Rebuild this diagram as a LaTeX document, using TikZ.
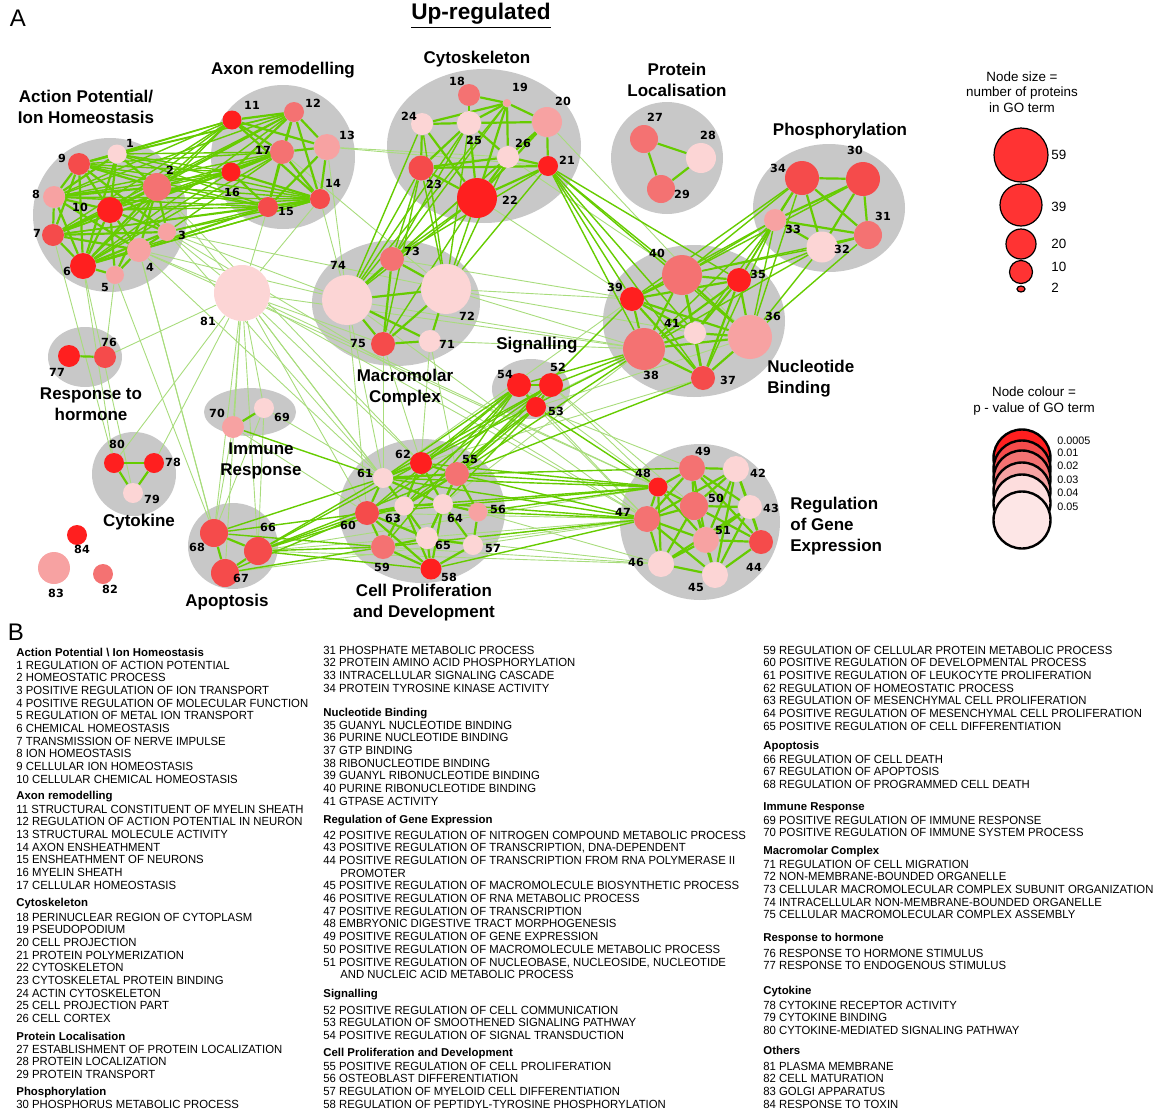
\documentclass[tikz,border=0pt]{standalone}
\usepackage{fontspec}
\setmainfont{Liberation Sans}
\newfontfamily\listfont[FakeStretch=0.96]{Liberation Sans}
\newfontfamily\numfont{DejaVu Sans}
\usetikzlibrary{positioning,shapes.geometric}
\pgfdeclarelayer{bg}
\pgfdeclarelayer{links}
\pgfsetlayers{bg,links,main}
\definecolor{pA}{HTML}{FF1F1F}
\definecolor{pB}{HTML}{F54B4B}
\definecolor{pC}{HTML}{F47272}
\definecolor{pD}{HTML}{F7A2A2}
\definecolor{pE}{HTML}{FCD5D5}
\definecolor{grn}{HTML}{66CC00}
\definecolor{lgrn}{HTML}{A8DC7C}
\definecolor{clgray}{HTML}{C8C8C8}
\def\grpfont{\bfseries\fontsize{8.5}{10.5}\selectfont}
\tikzset{
	term/.style={circle, inner sep=0pt, draw=none},
	tnum/.style={font={\numfont\bfseries\fontsize{5.6}{6}\selectfont}, inner sep=0pt},
	grp/.style={font=\grpfont, align=center, inner sep=0pt},
	lk/.style={draw=grn, line width=1.1pt},
	lkm/.style={draw=grn, line width=0.7pt},
	lkt/.style={draw=lgrn, line width=0.45pt},
	item/.style={font={\listfont\fontsize{5.9}{6}\selectfont}, anchor=base west, inner sep=0pt},
	head/.style={font={\bfseries\fontsize{5.7}{6}\selectfont}, anchor=base west, inner sep=0pt},
	lgd/.style={font={\fontsize{6.7}{7.75}\selectfont}, align=center, inner sep=0pt},
	szc/.style={circle, draw=black, fill=red!80!white, line width=0.6pt, inner sep=0pt},
	pvc/.style={circle, draw=black, line width=1.2pt, inner sep=0pt, minimum size=28.5pt},
}
\begin{document}
\begin{tikzpicture}[x=0.5pt, y=-0.5pt]
			%%%%% START %%%%%
			\useasboundingbox (0,0) rectangle (1157,1114);
			
			% groups
			\begin{pgfonlayer}{bg}
			\fill[clgray] (110,215) ellipse [x radius=77, y radius=77];
			\fill[clgray] (283,157) ellipse [x radius=72, y radius=72];
			\fill[clgray] (484,146) ellipse [x radius=97, y radius=77];
			\fill[clgray] (667,158) ellipse [x radius=56, y radius=56];
			\fill[clgray] (829,208) ellipse [x radius=76, y radius=64];
			\fill[clgray] (396,303) ellipse [x radius=84, y radius=63];
			\fill[clgray] (694,321) ellipse [x radius=91, y radius=76];
			\fill[clgray] (531,389) ellipse [x radius=39, y radius=30];
			\fill[clgray] (700,522) ellipse [x radius=80, y radius=78];
			\fill[clgray] (422,511) ellipse [x radius=83, y radius=72];
			\fill[clgray] (233,546) ellipse [x radius=45, y radius=43];
			\fill[clgray] (250,412) ellipse [x radius=46, y radius=24];
			\fill[clgray] (134,474) ellipse [x radius=42, y radius=42];
			\fill[clgray] (85,357) ellipse [x radius=37, y radius=30];
			\end{pgfonlayer}
			
			% GO terms
			\foreach \n/\x/\y/\r/\c in {1/117/154/9.5/pE, 2/157/187/14/pC, 3/167/232/9/pD, 4/139/250/12/pD, 5/115/275/9/pD, 6/83/266/13/pA, 7/53/235/11/pB, 8/54/197/11/pD, 9/79/164/11/pB, 10/110/210/13/pA,
				11/232/120/9.5/pA, 12/294/112/10/pC, 13/327/147/13/pD, 14/320/199/10/pB, 15/268/207/10/pB, 16/231/172/9.5/pA, 17/282/152/12/pC,
				18/469/95/11/pC, 19/507/103/4/pD, 20/547/122/15/pD, 21/548/166/10/pA, 22/477/198/20/pA, 23/421/168/12.5/pB, 24/422/124/11/pE, 25/469/123/12/pE, 26/508/157/11/pE,
				27/644/139/14/pC, 28/701/158/15/pE, 29/661/189/14/pC,
				30/863/179/17/pB, 31/868/235/14/pC, 32/822/247/15.5/pE, 33/775/220/11/pD, 34/802/178/17/pB,
				35/739/280/12/pA, 36/750/337/22/pD, 37/703/378/12/pB, 38/644/349/21/pC, 39/632/299/12/pA, 40/682/275/20/pC, 41/695/333/11/pE,
				42/736/469/13/pE, 43/750/507/12/pE, 44/761/542/12/pB, 45/715/575/13/pE, 46/661/564/13/pE, 47/647/519/13/pC, 48/658/487/9.5/pA, 49/692/468/13/pC, 50/694/506/14/pC, 51/706/540/13/pD,
				52/551/385/12/pA, 53/536/407/10/pA, 54/519/385/12/pA,
				55/457/474/12/pC, 56/478/512/9.5/pD, 57/473/545/10/pE, 58/431/569/10.5/pA, 59/383/547/12/pC, 60/367/513/12/pB, 61/383/478/10/pE, 62/421/463/11/pA, 63/404/506/9.5/pE, 64/443/504/10/pE, 65/427/538/11/pE,
				66/258/551/14/pB, 67/225/573/14/pB, 68/214/533/14/pB,
				69/264/408/10/pE, 70/233/427/11/pD,
				71/430/341/11/pE, 72/446/289/25/pE, 73/392/259/12/pC, 74/347/300/25/pE, 75/383/344/12/pB,
				76/105/357/11/pB, 77/69/356/11/pA,
				78/154/463/10/pA, 79/133/493/10/pE, 80/114/463/10/pA,
				81/242/293/28/pE, 82/103/574/10/pC, 83/54/568/16/pD, 84/77/535/10/pA}
				\node[term, fill=\c, minimum size=\r pt] (n\n) at (\x,\y) {};
			
			\foreach \n/\x/\y in {1/130/143, 2/170/170, 3/182/235, 4/150/267, 5/105/287, 6/67/271, 7/37/233, 8/36/194, 9/62/158, 10/80/207,
				11/252/105, 12/313/103, 13/347/135, 14/333/183, 15/286/211, 16/232/192, 17/263/150,
				18/457/81, 19/520/87, 20/563/101, 21/567/160, 22/510/200, 23/434/184, 24/409/116, 25/474/140, 26/523/143,
				27/655/117, 28/708/135, 29/682/194,
				30/855/150, 31/883/216, 32/842/249, 33/793/229, 34/778/168,
				35/758/274, 36/773/316, 37/728/380, 38/651/375, 39/615/287, 40/657/253, 41/672/323,
				42/758/473, 43/771/508, 44/754/567, 45/696/587, 46/636/562, 47/623/512, 48/643/473, 49/703/451, 50/716/498, 51/723/530,
				52/558/367, 53/556/411, 54/505/374,
				55/470/459, 56/498/509, 57/493/548, 58/449/577, 59/382/567, 60/348/525, 61/365/473, 62/403/454, 63/393/518, 64/455/518, 65/443/545,
				66/268/527, 67/241/578, 68/197/547,
				69/282/417, 70/217/413,
				71/447/344, 72/467/316, 73/412/251, 74/338/265, 75/358/343,
				76/109/342, 77/57/372,
				78/173/462, 79/152/499, 80/117/444,
				81/208/321, 82/110/589, 83/56/593, 84/82/549}
				\node[tnum] (l\n) at (\x,\y) {\n};
			
			% group names
			\node[font={\fontsize{12}{12}\selectfont}] (pa) at (18,18) {A};
			\node[font={\bfseries\fontsize{11.3}{12}\selectfont}] (ttl) at (481,16) {\underline{Up-regulated}};
			\node[grp] (gAP) at (86,107) {Action Potential/\\Ion Homeostasis};
			\node[grp] (gAX) at (283,70) {Axon remodelling};
			\node[grp] (gCY) at (477,59) {Cytoskeleton};
			\node[grp] (gPL) at (677,80) {Protein\\Localisation};
			\node[grp] (gPH) at (840,131) {Phosphorylation};
			\node[grp] (gMC) at (405,388) {Macromolar\\Complex};
			\node[grp] (gSG) at (537,345) {Signalling};
			\node[grp, align=left, anchor=west] (gNB) at (767,379) {Nucleotide\\Binding};
			\node[grp, align=left, anchor=west] (gGE) at (790,526) {Regulation\\of Gene\\Expression};
			\node[grp] (gCP) at (424,603) {Cell Proliferation\\and Development};
			\node[grp] (gRH) at (91,404) {Response to\\hormone};
			\node[grp] (gIR) at (261,461) {Immune\\Response};
			\node[grp] (gCK) at (139,522) {Cytokine};
			\node[grp] (gAP2) at (227,602) {Apoptosis};
			
			% legends
			\node[lgd] (lsz) at (1022,92) {Node size =\\number of proteins\\in GO term};
			\foreach \v/\y/\r in {59/155/27, 39/205/21, 20/244/15, 10/272/11.5}
				\node[szc, minimum size=\r pt] (s\v) at (1021,\y) {};
			\node[szc, ellipse, minimum width=4pt, minimum height=3pt] (s2) at (1021,289) {};
			\foreach \v/\y in {59/155, 39/207, 20/244, 10/267, 2/288}
				\node[lgd, anchor=west] (t\v) at (1051,\y) {\v};
			
			\node[lgd] (lpv) at (1034,401) {Node colour =\\p - value of GO term};
			\foreach \c/\y [count=\k] in {pA/458, pB/469, pC/479, pD/491, pE!80!white/503, pE!60!white/520}
				\node[pvc, fill=\c] (p\k) at (1022,\y) {};
			\foreach \v/\y [count=\k] in {0.0005/441, 0.01/453, 0.02/466, 0.03/480, 0.04/493, 0.05/507}
				\node[font={\fontsize{5.4}{6}\selectfont}, anchor=west, inner sep=0pt] (q\k) at (1057,\y) {\v};
			
			% links
			\begin{pgfonlayer}{links}
			\foreach \a/\b in {13/26, 13/21, 13/74, 14/74, 14/81, 15/81, 17/72, 3/74, 4/74, 3/72, 2/81, 3/81, 4/81,
				5/76, 6/80, 7/80, 5/68, 4/68, 4/67, 6/79, 4/61, 3/61, 4/48, 3/47, 2/62,
				81/76, 81/78, 81/80, 81/70, 81/69, 81/67, 81/66, 81/68, 81/61, 81/60, 81/62, 81/48, 81/47, 81/38, 81/75, 81/63,
				69/66, 69/68, 70/68, 69/61, 70/60, 20/36, 22/39, 26/40,
				72/39, 72/38, 74/38, 73/39, 71/38, 72/41, 74/61, 75/61, 75/62, 71/62, 71/55, 74/60, 74/47,
				38/61, 39/61, 38/64, 37/62, 36/53, 53/47, 52/48, 53/49, 54/47, 52/50, 54/48,
				47/66, 47/67, 48/66, 46/66, 47/60, 47/59, 46/59, 56/46, 65/46, 57/47}
				\draw[lkt] (n\a) -- (n\b);
			
			\foreach \a in {1,2,6,7,8,9,10}
				\foreach \b in {11,12,14,15,16,17}
					\draw[lkm] (n\a) -- (n\b);
			\foreach \a/\b in {3/14, 3/15, 3/17, 4/15, 4/14,
				21/39, 21/40, 21/38, 21/41, 21/36, 21/37, 21/35,
				22/73, 22/72, 22/74, 22/75, 23/73, 23/74, 23/72, 23/75, 24/74, 24/72, 25/73, 25/74, 25/72, 19/73, 19/74, 26/72, 26/74, 21/72, 21/73, 20/74,
				34/39, 34/40, 33/40, 33/39, 33/38, 33/36, 33/41, 33/37, 32/40, 32/38, 32/36, 31/36, 31/40, 30/40, 34/36, 34/35, 33/35, 32/35,
				38/52, 38/54, 38/55, 38/62, 39/55, 37/55,
				54/62, 54/61, 54/55, 54/63, 54/60, 52/62, 52/55, 52/61, 53/55, 53/64, 53/63, 54/59, 52/60, 53/48,
				61/48, 61/47, 55/48, 55/47, 55/49, 56/47, 56/48, 62/48, 63/48, 64/47, 58/47, 60/48, 59/47,
				61/66, 61/68, 60/66, 60/68, 59/66, 59/67, 62/66, 55/66, 63/66, 60/67, 58/66, 59/68, 70/61}
				\draw[lkm] (n\a) -- (n\b);
			
			\foreach \a/\b in {1/9, 1/2, 1/8, 1/10, 1/6, 9/2, 9/8, 9/10, 9/7, 9/6, 9/3, 8/2, 8/10, 8/7, 8/6, 8/4, 2/10, 2/7, 2/6, 2/3, 2/4,
				10/7, 10/6, 10/4, 10/3, 7/6, 7/4, 7/3, 6/4, 6/5, 6/3, 4/3, 4/5, 10/5, 2/5,
				11/12, 11/17, 11/13, 12/17, 12/13, 12/14, 12/15, 13/17, 13/14, 13/15, 17/14, 17/15, 16/17, 16/15, 16/14, 14/15, 12/16, 11/14,
				18/19, 19/20, 19/25, 19/24, 19/22, 19/26, 20/25, 20/21, 20/26, 20/22, 24/25, 24/23, 24/22, 25/22, 25/23, 26/22, 26/23, 21/22, 21/23, 21/26, 25/26, 23/22, 18/25,
				73/74, 73/72, 73/75, 74/75, 74/72, 72/71, 75/71, 72/75, 74/71,
				27/28, 27/29, 28/29,
				34/30, 30/31, 34/31, 34/33, 30/33, 33/31, 33/32, 32/31, 30/32, 34/32,
				40/35, 40/39, 40/41, 40/36, 40/38, 40/37, 35/39, 35/41, 35/36, 35/38, 35/37, 39/41, 39/38, 39/36, 39/37, 41/36, 41/38, 41/37, 36/38, 36/37, 38/37,
				54/52, 52/53, 54/53,
				61/62, 61/63, 61/60, 61/64, 61/55, 62/55, 62/63, 62/64, 55/64, 55/63, 55/56, 55/65, 63/64, 63/65, 63/60, 63/59, 64/65, 64/56, 64/57,
				60/65, 60/59, 65/58, 65/57, 59/58, 57/58, 56/57, 60/58, 65/59, 63/58, 64/58,
				49/42, 49/48, 49/50, 49/47, 49/43, 49/51, 49/44, 42/50, 42/43, 42/51, 42/44, 42/47, 48/50, 48/47, 48/51, 50/43, 50/47, 50/51, 50/44, 50/46, 50/45,
				43/51, 43/44, 43/45, 47/51, 47/46, 47/45, 51/46, 51/45, 51/44, 44/45, 46/45, 48/46, 43/46, 42/45,
				68/66, 68/67, 66/67, 69/70, 80/78, 80/79, 78/79, 77/76}
				\draw[lk] (n\a) -- (n\b);
			\end{pgfonlayer}
			
			% term list
			\node[font={\fontsize{12}{12}\selectfont}] (pb) at (16,632) {B};
			
			\node[head] (h1) at (16,656) {Action Potential \textbackslash{} Ion Homeostasis};
			\foreach \t [count=\k from 0] in {1 REGULATION OF ACTION POTENTIAL, 2 HOMEOSTATIC PROCESS, 3 POSITIVE REGULATION OF ION TRANSPORT, 4 POSITIVE REGULATION OF MOLECULAR FUNCTION, 5 REGULATION OF METAL ION TRANSPORT, 6 CHEMICAL HOMEOSTASIS, 7 TRANSMISSION OF NERVE IMPULSE, 8 ION HOMEOSTASIS, 9 CELLULAR ION HOMEOSTASIS, 10 CELLULAR CHEMICAL HOMEOSTASIS}
				\node[item] (a\k) at (16, 669+12.7*\k) {\t};
			\node[head] (h2) at (16,799) {Axon remodelling};
			\foreach \t [count=\k from 0] in {11 STRUCTURAL CONSTITUENT OF MYELIN SHEATH, 12 REGULATION OF ACTION POTENTIAL IN NEURON, 13 STRUCTURAL MOLECULE ACTIVITY, 14 AXON ENSHEATHMENT, 15 ENSHEATHMENT OF NEURONS, 16 MYELIN SHEATH, 17 CELLULAR HOMEOSTASIS}
				\node[item] (b\k) at (16, 813+12.7*\k) {\t};
			\node[head] (h3) at (16,906) {Cytoskeleton};
			\foreach \t [count=\k from 0] in {18 PERINUCLEAR REGION OF CYTOPLASM, 19 PSEUDOPODIUM, 20 CELL PROJECTION, 21 PROTEIN POLYMERIZATION, 22 CYTOSKELETON, 23 CYTOSKELETAL PROTEIN BINDING, 24 ACTIN CYTOSKELETON, 25 CELL PROJECTION PART, 26 CELL CORTEX}
				\node[item] (c\k) at (16, 921+12.7*\k) {\t};
			\node[head] (h4) at (16,1040) {Protein Localisation};
			\foreach \t [count=\k from 0] in {27 ESTABLISHMENT OF PROTEIN LOCALIZATION, 28 PROTEIN LOCALIZATION, 29 PROTEIN TRANSPORT}
				\node[item] (d\k) at (16, 1053+12.7*\k) {\t};
			\node[head] (h5) at (16,1095) {Phosphorylation};
			\node[item] (e0) at (16,1108) {30 PHOSPHORUS METABOLIC PROCESS};
			\foreach \t [count=\k from 1] in {31 PHOSPHATE METABOLIC PROCESS, 32 PROTEIN AMINO ACID PHOSPHORYLATION, 33 INTRACELLULAR SIGNALING CASCADE, 34 PROTEIN TYROSINE KINASE ACTIVITY}
				\node[item] (e\k) at (323, 641.3+12.7*\k) {\t};
			
			\node[head] (h6) at (323,716) {Nucleotide Binding};
			\foreach \t [count=\k from 0] in {35 GUANYL NUCLEOTIDE BINDING, 36 PURINE NUCLEOTIDE BINDING, 37 GTP BINDING, 38 RIBONUCLEOTIDE BINDING, 39 GUANYL RIBONUCLEOTIDE BINDING, 40 PURINE RIBONUCLEOTIDE BINDING, 41 GTPASE ACTIVITY}
				\node[item] (f\k) at (323, 729+12.7*\k) {\t};
			\node[head] (h7) at (323,823) {Regulation of Gene Expression};
			\foreach \t [count=\k from 0] in {42 POSITIVE REGULATION OF NITROGEN COMPOUND METABOLIC PROCESS, {43 POSITIVE REGULATION OF TRANSCRIPTION, DNA-DEPENDENT}, 44 POSITIVE REGULATION OF TRANSCRIPTION FROM RNA POLYMERASE II, \hspace*{8.5pt}PROMOTER, 45 POSITIVE REGULATION OF MACROMOLECULE BIOSYNTHETIC PROCESS, 46 POSITIVE REGULATION OF RNA METABOLIC PROCESS, 47 POSITIVE REGULATION OF TRANSCRIPTION, 48 EMBRYONIC DIGESTIVE TRACT MORPHOGENESIS, 49 POSITIVE REGULATION OF GENE EXPRESSION, 50 POSITIVE REGULATION OF MACROMOLECULE METABOLIC PROCESS, {51 POSITIVE REGULATION OF NUCLEOBASE, NUCLEOSIDE, NUCLEOTIDE}, \hspace*{8.5pt}AND NUCLEIC ACID METABOLIC PROCESS}
				\node[item] (g\k) at (323, 839+12.7*\k) {\t};
			\node[head] (h8) at (323,997) {Signalling};
			\foreach \t [count=\k from 0] in {52 POSITIVE REGULATION OF CELL COMMUNICATION, 53 REGULATION OF SMOOTHENED SIGNALING PATHWAY, 54 POSITIVE REGULATION OF SIGNAL TRANSDUCTION}
				\node[item] (i\k) at (323, 1014+12.7*\k) {\t};
			\node[head] (h9) at (323,1056) {Cell Proliferation and Development};
			\foreach \t [count=\k from 0] in {55 POSITIVE REGULATION OF CELL PROLIFERATION, 56 OSTEOBLAST DIFFERENTIATION, 57 REGULATION OF MYELOID CELL DIFFERENTIATION, 58 REGULATION OF PEPTIDYL-TYROSINE PHOSPHORYLATION}
				\node[item] (j\k) at (323, 1070+12.7*\k) {\t};
			
			\foreach \t [count=\k from 0] in {59 REGULATION OF CELLULAR PROTEIN METABOLIC PROCESS, 60 POSITIVE REGULATION OF DEVELOPMENTAL PROCESS, 61 POSITIVE REGULATION OF LEUKOCYTE PROLIFERATION, 62 REGULATION OF HOMEOSTATIC PROCESS, 63 REGULATION OF MESENCHYMAL CELL PROLIFERATION, 64 POSITIVE REGULATION OF MESENCHYMAL CELL PROLIFERATION, 65 POSITIVE REGULATION OF CELL DIFFERENTIATION}
				\node[item] (m\k) at (763, 654+12.7*\k) {\t};
			\node[head] (h10) at (763,749) {Apoptosis};
			\foreach \t [count=\k from 0] in {66 REGULATION OF CELL DEATH, 67 REGULATION OF APOPTOSIS, 68 REGULATION OF PROGRAMMED CELL DEATH}
				\node[item] (o\k) at (763, 763+12.7*\k) {\t};
			\node[head] (h11) at (763,810) {Immune Response};
			\foreach \t [count=\k from 0] in {69 POSITIVE REGULATION OF IMMUNE RESPONSE, 70 POSITIVE REGULATION OF IMMUNE SYSTEM PROCESS}
				\node[item] (r\k) at (763, 824+12.7*\k) {\t};
			\node[head] (h12) at (763,854) {Macromolar Complex};
			\foreach \t [count=\k from 0] in {71 REGULATION OF CELL MIGRATION, 72 NON-MEMBRANE-BOUNDED ORGANELLE, 73 CELLULAR MACROMOLECULAR COMPLEX SUBUNIT ORGANIZATION, 74 INTRACELLULAR NON-MEMBRANE-BOUNDED ORGANELLE, 75 CELLULAR MACROMOLECULAR COMPLEX ASSEMBLY}
				\node[item] (s\k) at (763, 868+12.7*\k) {\t};
			\node[head] (h13) at (763,941) {Response to hormone};
			\foreach \t [count=\k from 0] in {76 RESPONSE TO HORMONE STIMULUS, 77 RESPONSE TO ENDOGENOUS STIMULUS}
				\node[item] (u\k) at (763, 957+12.7*\k) {\t};
			\node[head] (h14) at (763,994) {Cytokine};
			\foreach \t [count=\k from 0] in {78 CYTOKINE RECEPTOR ACTIVITY, 79 CYTOKINE BINDING, 80 CYTOKINE-MEDIATED SIGNALING PATHWAY}
				\node[item] (v\k) at (763, 1009+12.7*\k) {\t};
			\node[head] (h15) at (763,1054) {Others};
			\foreach \t [count=\k from 0] in {81 PLASMA MEMBRANE, 82 CELL MATURATION, 83 GOLGI APPARATUS, 84 RESPONSE TO TOXIN}
				\node[item] (w\k) at (763, 1070+12.7*\k) {\t};
			
			%%%%% END %%%%%
\end{tikzpicture}
\end{document}
